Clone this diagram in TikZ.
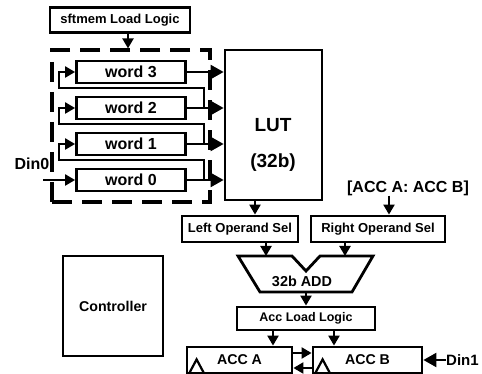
\documentclass[tikz,border=0pt]{standalone}
\usepackage{fontspec}
\setmainfont{Liberation Sans}
\usetikzlibrary{arrows.meta,calc,positioning}

\tikzset{
  blk/.style={draw,line width=2.8pt,inner sep=0pt,font=\bfseries\fontsize{13}{15}\selectfont},
  wordbox/.style={blk,minimum width=109pt,minimum height=22pt,font=\bfseries\fontsize{16}{18}\selectfont},
  accbox/.style={blk,minimum height=26pt,font=\bfseries\fontsize{14.2}{16}\selectfont},
  bankbox/.style={draw,line width=3.2pt,dash pattern=on 20pt off 10pt,minimum width=158pt,minimum height=152pt,inner sep=0pt},
  lbl/.style={inner sep=0pt,font=\bfseries\fontsize{16}{18}\selectfont},
  arr/.style={-{Triangle[length=10pt,width=11pt]},line width=2.2pt},
  bigarr/.style={-{Triangle[length=13pt,width=14pt]},line width=2.2pt},
}

\begin{document}
\begin{tikzpicture}[x=1pt,y=-1pt]
  \useasboundingbox (0,0) rectangle (482,374);
  % shift memory
  \node[blk,minimum width=140pt,minimum height=25pt] (sftmem) at (120,20) {sftmem Load Logic};
  \node[bankbox] (bank) at (131,126) {};
  \draw[arr] ([xshift=8pt]sftmem.south) -- ([xshift=8pt]sftmem.south |- bank.north);
  \foreach \i/\y in {3/72,2/108,1/144,0/180} {\node[wordbox] (word\i) at (131,\y) {word \i};}
  \node[lbl] (din0) at (32,164) {Din0};
  \coordinate (din0in) at (43,180);
  \draw[arr] (din0in) -- (word0.west);
  % lookup table
  \node[blk,minimum width=97pt,minimum height=150pt] (LUT) at (273.5,125) {};
  \node[lbl,font=\bfseries\fontsize{19}{36}\selectfont,align=center] (luttxt) at (273,145) {LUT\\(32b)};
  \foreach \i in {3,2,1,0} {\draw[bigarr] (word\i.east) -- (word\i -| LUT.west);}
  \foreach \i/\j in {2/3,1/2,0/1} {\draw[arr] ([xshift=17pt]word\i.east) -- ++(0,-20) -| ([xshift=-16pt]word\j.west) -- (word\j.west);}
  % controller
  \node[blk,minimum width=100pt,minimum height=100pt,font=\bfseries\fontsize{14.2}{16}\selectfont] (ctrl) at (113,306) {Controller};
  % operand select
  \node[blk,minimum width=116pt,minimum height=26pt] (lsel) at (240,229) {Left Operand Sel};
  \node[blk,minimum width=134pt,minimum height=26pt] (rsel) at (378,229) {Right Operand Sel};
  \coordinate (lutout) at (255,0);
  \draw[arr] (LUT.south -| lutout) -- (lsel.north -| lutout);
  \node[lbl] (accsel) at (408,188) {[ACC A: ACC B]};
  \coordinate (selx) at (389,0);
  \draw[arr] (accsel.south -| selx) -- (rsel.north -| selx);
  % adder
  \draw[line width=2.8pt,line join=miter] (238,256) -- (292,256) -- (306,271) -- (320,256) -- (373,256) -- (352,292) -- (260,292) -- cycle;
  \node[lbl,font=\bfseries\fontsize{14.4}{16}\selectfont] (add) at (302,281) {32b ADD};
  \coordinate (addinL) at (266,256); \coordinate (addinR) at (345,256); \coordinate (addout) at (306,292);
  \draw[arr] (lsel.south -| addinL) -- (addinL);
  \draw[arr] (rsel.south -| addinR) -- (addinR);
  \node[blk,minimum width=138pt,minimum height=23pt,font=\bfseries\fontsize{12.5}{14}\selectfont] (accld) at (306,318.5) {Acc Load Logic};
  \draw[arr] (addout) -- (accld.north);
  % accumulators
  \node[accbox,minimum width=105pt] (accA) at (239.5,360) {ACC A};
  \node[accbox,minimum width=109pt] (accB) at (367.5,360) {ACC B};
  \coordinate (ax) at (273,0); \coordinate (bx) at (334,0);
  \draw[arr] (accld.south -| ax) -- (accA.north -| ax);
  \draw[arr] (accld.south -| bx) -- (accB.north -| bx);
  \draw[arr] ([yshift=7pt]accA.east) -- ([yshift=7pt]accB.west);
  \draw[arr] ([yshift=-8pt]accB.west) -- ([yshift=-8pt]accA.east);
  \foreach \n in {accA,accB} {\draw[line width=2.2pt] ([xshift=3pt]\n.south west) -- ++(8,-15) -- ++(8,15);}
  \node[lbl,font=\bfseries\fontsize{15}{17}\selectfont,anchor=west] (din1) at (446,360) {Din1};
  \draw[bigarr] (din1.west) -- (accB.east);
\end{tikzpicture}
\end{document}
